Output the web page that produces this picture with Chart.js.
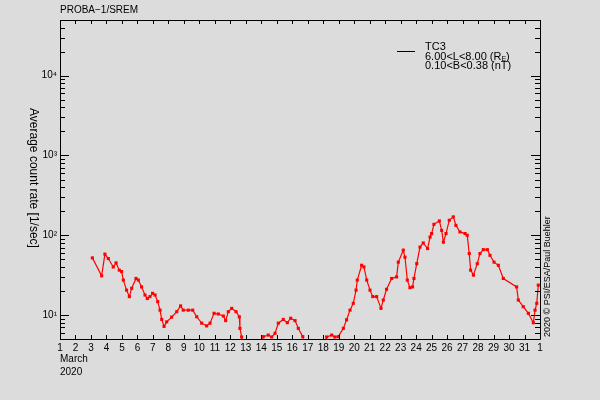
<!DOCTYPE html>
<html>
<head>
<meta charset="utf-8">
<script src="https://cdn.jsdelivr.net/npm/chart.js@4/dist/chart.umd.min.js"></script>
<style>
  body { margin: 0; background: #dcdcdc; }
  #wrap { width: 600px; height: 400px; }
</style>
</head>
<body>
<div id="wrap"><canvas id="chart" width="600" height="400"></canvas></div>
<script>
// day of March 2020 (fractional) and TC3 average count rate [1/sec]
var days = [3.09, 3.69, 3.9, 4.12, 4.44, 4.62, 4.83, 4.98, 5.09, 5.3, 5.48, 5.63, 5.91, 6.06, 6.27, 6.49, 6.64, 6.81, 6.98, 7.14,
    7.31, 7.46, 7.57, 7.72, 7.89, 8.21, 8.54, 8.79, 8.96, 9.29, 9.57, 9.83, 10.15, 10.47, 10.69, 10.95, 11.22, 11.55, 11.7, 11.87,
    12.09, 12.37, 12.58, 12.62, 12.73, 12.9, 13.95, 14.13, 14.45, 14.67, 14.89, 15.1, 15.42, 15.68, 15.9, 16.18, 16.39, 16.68, 16.85,
    18.05, 18.22, 18.55, 18.75, 18.97, 19.3, 19.51, 19.73, 19.94, 20.12, 20.2, 20.48, 20.63, 20.81, 21.02, 21.2, 21.45, 21.73, 21.88,
    22.09, 22.42, 22.74, 22.85, 23.17, 23.28, 23.43, 23.6, 23.77, 23.86, 24.04, 24.25, 24.46, 24.74, 24.9, 25.0, 25.15, 25.5, 25.65,
    25.76, 25.93, 26.14, 26.4, 26.57, 26.83, 27.16, 27.3, 27.43, 27.52, 27.7, 27.95, 28.12, 28.34, 28.6, 28.77, 29.03, 29.31, 29.63,
    30.49, 30.6, 30.92, 31.25, 31.57, 31.68, 31.79, 31.89];
var rates = [52, 31, 58, 51, 40, 45, 36.5, 35, 27.4, 20.5, 17, 21.6, 28.7, 27.4, 22.5, 17.8, 16.1, 17, 18.7, 17.8,
    14.7, 11.5, 8.8, 7.2, 8.2, 9.4, 11, 13, 11.5, 11.5, 11.5, 9.5, 7.9, 7.3, 7.9, 10.5, 10.3, 9.7, 8.5, 11,
    12.1, 11, 9.5, 6.8, 5.3, 3.5, 3.5, 5.35, 5.6, 5.3, 5.9, 7.9, 8.8, 8.0, 9.1, 8.5, 6.8, 5.35, 3.5,
    3.5, 5.3, 5.6, 5.3, 5.35, 6.8, 8.7, 11.5, 14, 20.5, 27.4, 42, 40, 27.4, 20.5, 17, 17, 12.1, 15.4,
    21, 28.7, 30, 46, 65, 53, 27.4, 22, 22.5, 28.7, 44, 71, 80, 68, 95, 105, 137, 151, 115,
    82, 105, 154, 170, 133, 110, 105, 100, 59, 36.5, 31.6, 44, 59, 66, 66, 56, 46, 42, 28.7,
    22.5, 15.4, 12.7, 10.5, 8.0, 11.5, 14, 23.7];

var dayTicks = [];
for (var d = 1; d <= 32; d++) dayTicks.push(d);
var decades = [10, 100, 1000, 10000];
var sup = ['\u2070', '\u00b9', '\u00b2', '\u00b3', '\u2074'];

var points = [];
for (var i = 0; i < days.length; i++) points.push({x: days[i], y: rates[i]});

var FONT = '"Liberation Sans", sans-serif';

// inward ticks, frame and the loose texts of the IDL style plot
var decor = {
    id: 'decor',
    afterDraw: function (chart) {
        var ctx = chart.ctx, a = chart.chartArea;
        var xs = chart.scales.x, ys = chart.scales.y;
        ctx.save();
        ctx.strokeStyle = '#000';
        ctx.lineWidth = 1;
        ctx.beginPath();
        ctx.rect(Math.round(a.left) + 0.5, Math.round(a.top) + 0.5, Math.round(a.right - a.left), Math.round(a.bottom - a.top));
        dayTicks.forEach(function (d) {
            var x = Math.round(xs.getPixelForValue(d)) + 0.5;
            ctx.moveTo(x, a.bottom); ctx.lineTo(x, a.bottom - 4);
            ctx.moveTo(x, a.top); ctx.lineTo(x, a.top + 4);
        });
        for (var e = 0; e <= 4; e++) {
            for (var m = 1; m <= 9; m++) {
                var v = m * Math.pow(10, e);
                if (v < 5 || v > 50000) continue;
                var y = Math.round(ys.getPixelForValue(v)) + 0.5;
                var len = m === 1 ? 9 : 5;
                ctx.moveTo(a.left, y); ctx.lineTo(a.left + len, y);
                ctx.moveTo(a.right, y); ctx.lineTo(a.right - len, y);
            }
        }
        ctx.stroke();

        ctx.fillStyle = '#000';
        ctx.textBaseline = 'middle';
        ctx.textAlign = 'left';
        ctx.font = '10px ' + FONT;
        ctx.fillText('PROBA\u22121/SREM', 60, 10);
        ctx.fillText('March', 60, 359);
        ctx.fillText('2020', 60, 372);

        // legend
        ctx.beginPath();
        ctx.moveTo(397, 51.5); ctx.lineTo(415, 51.5);
        ctx.stroke();
        ctx.font = '11px ' + FONT;
        ctx.fillText('TC3', 425, 47);
        var t = '6.00<L<8.00 (R';
        ctx.fillText(t, 425, 56.5);
        var w = ctx.measureText(t).width;
        ctx.font = '7px ' + FONT;
        ctx.fillText('E', 425 + w, 59.5);
        var w2 = ctx.measureText('E').width;
        ctx.font = '11px ' + FONT;
        ctx.fillText(')', 425 + w + w2, 56.5);
        ctx.fillText('0.10<B<0.38 (nT)', 425, 66);

        // y axis title, reads downward
        ctx.save();
        ctx.translate(33, 178);
        ctx.rotate(Math.PI / 2);
        ctx.textAlign = 'center';
        ctx.font = '12px ' + FONT;
        ctx.fillText('Average count rate [1/sec]', 0, 0);
        ctx.restore();

        // credit, reads upward
        ctx.save();
        ctx.translate(548, 337);
        ctx.rotate(-Math.PI / 2);
        ctx.textAlign = 'left';
        ctx.font = '9px ' + FONT;
        ctx.fillText('2020 \u00a9 PSI/ESA/Paul Buehler', 0, 0);
        ctx.restore();
        ctx.restore();
    }
};

var chart = new Chart(document.getElementById('chart'), {
    type: 'line',
    data: {
        datasets: [{
            data: points,
            borderColor: '#ff0000',
            backgroundColor: '#ff0000',
            borderWidth: 1.2,
            pointStyle: 'rect',
            pointRadius: 2.2,
            pointBorderWidth: 0,
            tension: 0,
            clip: 1
        }]
    },
    options: {
        responsive: false,
        animation: false,
        devicePixelRatio: 1,
        layout: {padding: {top: 20, left: 0, right: 0, bottom: 0}},
        plugins: {legend: {display: false}, title: {display: false}, tooltip: {enabled: false}},
        scales: {
            x: {
                type: 'linear',
                min: 1,
                max: 32,
                afterBuildTicks: function (s) { s.ticks = dayTicks.map(function (v) { return {value: v}; }); },
                afterFit: function (s) { s.height = 61; },
                grid: {display: false, drawTicks: false},
                border: {display: false},
                ticks: {
                    autoSkip: false,
                    maxRotation: 0,
                    padding: 3,
                    color: '#000',
                    font: {family: FONT, size: 10},
                    callback: function (v) { return v === 32 ? '1' : String(v); }
                }
            },
            y: {
                type: 'logarithmic',
                min: 5,
                max: 50000,
                afterBuildTicks: function (s) { s.ticks = decades.map(function (v) { return {value: v}; }); },
                afterFit: function (s) { s.width = 60; },
                grid: {display: false, drawTicks: false},
                border: {display: false},
                ticks: {
                    padding: 3,
                    color: '#000',
                    font: {family: FONT, size: 10},
                    callback: function (v) { return '10' + sup[Math.round(Math.log10(v))]; }
                }
            },
            y2: {
                type: 'logarithmic',
                position: 'right',
                min: 5,
                max: 50000,
                afterFit: function (s) { s.width = 60; },
                grid: {display: false, drawTicks: false},
                border: {display: false},
                ticks: {display: false}
            }
        }
    },
    plugins: [decor]
});
</script>
</body>
</html>
